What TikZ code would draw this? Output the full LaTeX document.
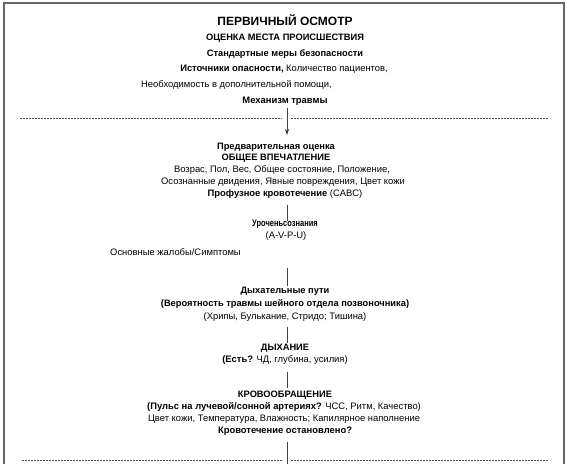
\documentclass[tikz,border=0pt]{standalone}
\usepackage{fontspec}
\usetikzlibrary{arrows.meta}
\setmainfont{Liberation Sans}
\newfontfamily\vnarrowfont[FakeStretch=0.78]{Liberation Sans}
\begin{document}
\begin{tikzpicture}[x=1pt,y=-1pt,
  txt/.style={font=\fontsize{9.4}{11}\selectfont, inner sep=0pt, anchor=base},
  hdr/.style={font=\fontsize{9.3}{11}\selectfont\bfseries, inner sep=0pt, anchor=base},
  frame/.style={draw=black!60, line width=1.4pt},
  sep/.style={draw=black!70, dashed, dash pattern=on 2.2pt off 0.8pt, line width=0.7pt},
  conn/.style={draw=black!75, line width=0.6pt}]
\useasboundingbox (0,0) rectangle (569,463);
\fill[white] (0,0) rectangle (569,463);
% frame
\draw[frame] (4,470) -- (4,3) -- (564,3) -- (564,470);
% top block
\node[txt, font=\fontsize{12}{14}\selectfont\bfseries] (title) at (285,25.5) {ПЕРВИЧНЫЙ ОСМОТР};
\node[hdr] (scene) at (285,40.5) {ОЦЕНКА МЕСТА ПРОИСШЕСТВИЯ};
\node[hdr] (std) at (285,56) {Стандартные меры безопасности};
\node[txt] (haz) at (284,71.5) {\textbf{Источники опасности,} Количество пациентов,};
\node[txt, anchor=base west] (help) at (141,87.5) {Необходимость в дополнительной помощи,};
\node[txt] (mech) at (285,103) {\textbf{Механизм травмы}};
% separator 1
\coordinate (a1) at (287,108);
\coordinate (a2) at (287,135);
\draw[sep] (20,118) -- (282,118);
\draw[sep] (291,118) -- (548,118);
\draw[conn, -{Stealth[length=6pt,width=4pt]}] (a1) -- (a2);
% general impression
\node[hdr] (pre) at (276,149) {Предварительная оценка};
\node[hdr] (gen) at (276,160.5) {ОБЩЕЕ ВПЕЧАТЛЕНИЕ};
\node[txt] (age) at (282,172.5) {Возрас, Пол, Вес, Общее состояние, Положение,};
\node[txt] (mov) at (283,184.5) {Осознанные двидения, Явные повреждения, Цвет кожи};
\node[txt] (prof) at (285,196.5) {\textbf{Профузное кровотечение} (CABC)};
\coordinate (l1a) at (287,205);
\coordinate (l1b) at (287,221);
\draw[conn] (l1a) -- (l1b);
% LOC
\node[txt, font=\fontsize{9.6}{11}\selectfont\vnarrowfont\bfseries] (loc) at (285,226.5) {Уроченьсознания};
\node[txt] (avpu) at (286,238.5) {(A-V-P-U)};
\node[txt, anchor=base west] (compl) at (110,255.5) {Основные жалобы/Симптомы};
\coordinate (l2a) at (287,268);
\coordinate (l2b) at (287,286);
\draw[conn] (l2a) -- (l2b);
% airway
\node[hdr] (air) at (285,293.5) {Дыхательные пути};
\node[hdr] (cspine) at (285,306.5) {(Вероятность травмы шейного отдела позвоночника)};
\node[txt] (snd) at (285,319.5) {(Хрипы, Булькание, Стридо; Тишина)};
\coordinate (l3a) at (287,327);
\coordinate (l3b) at (287,343);
\draw[conn] (l3a) -- (l3b);
% breathing
\node[hdr] (br) at (285,350.5) {ДЫХАНИЕ};
\node[txt] (brq) at (285,362.5) {\textbf{(Есть?} ЧД, глубина, усилия)};
\coordinate (l4a) at (287,372);
\coordinate (l4b) at (287,388);
\draw[conn] (l4a) -- (l4b);
% circulation
\node[hdr] (circ) at (285,397.5) {КРОВООБРАЩЕНИЕ};
\node[txt] (pulse) at (284,409.5) {\textbf{(Пульс на лучевой/сонной артериях?} ЧСС, Ритм, Качество)};
\node[txt] (skin) at (284,421.5) {Цвет кожи, Температура, Влажность; Капилярное наполнение};
\node[txt] (bleed) at (285,433.5) {\textbf{Кровотечение остановлено?}};
\coordinate (l5a) at (287,442);
\coordinate (l5b) at (287,465);
\draw[sep] (22,460) -- (283,460);
\draw[sep] (291,460) -- (548,460);
\draw[conn] (l5a) -- (l5b);
\end{tikzpicture}
\end{document}
